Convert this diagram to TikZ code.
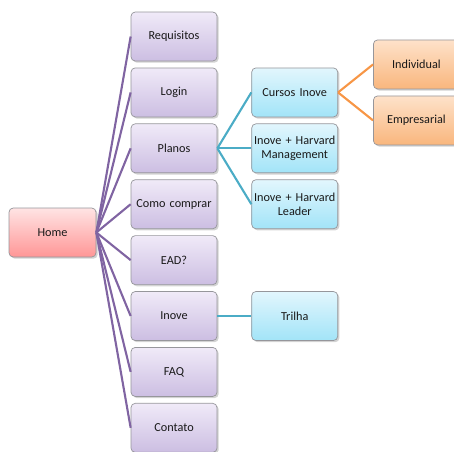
\documentclass[tikz,border=0pt]{standalone}
\usepackage{fontspec}
\setmainfont{Carlito}[WordSpace=0.8]
\usepackage{tikz}
\usetikzlibrary{positioning, shadows}
\definecolor{mappurple}{RGB}{128,100,162}
\definecolor{mapblue}{RGB}{75,172,198}
\definecolor{maporange}{RGB}{247,150,70}
\definecolor{boxedge}{RGB}{150,150,155}
\definecolor{hometop}{RGB}{255,228,228}
\definecolor{homebot}{RGB}{255,150,150}
\definecolor{menutop}{RGB}{240,234,248}
\definecolor{menubot}{RGB}{204,190,226}
\definecolor{subtop}{RGB}{226,246,253}
\definecolor{subbot}{RGB}{162,228,248}
\definecolor{plantop}{RGB}{254,226,202}
\definecolor{planbot}{RGB}{249,182,125}
\tikzset{
  %% ---- boxes ----
  card/.style    = {rectangle, rounded corners=3pt,
                    draw=boxedge, line width=0.5pt,
                    inner xsep=0pt, inner ysep=1pt,
                    minimum width=2.15cm, minimum height=1.225cm,
                    text width=2.15cm, align=center,
                    font=\fontsize{8.7}{9.8}\selectfont, text=black!90,
                    drop shadow={opacity=0.35, shadow xshift=1.2pt, shadow yshift=-1.2pt}},
  homebox/.style = {card, top color=hometop, bottom color=homebot},
  menubox/.style = {card, top color=menutop, bottom color=menubot},
  subbox/.style  = {card, top color=subtop, bottom color=subbot},
  planbox/.style = {card, top color=plantop, bottom color=planbot},
  %% ---- links ----
  menulink/.style = {line width=1.5pt, color=mappurple},
  sublink/.style  = {line width=1.5pt, color=mapblue},
  planlink/.style = {line width=1.5pt, color=maporange},
}
\begin{document}
\begin{tikzpicture}[node distance=0.155cm]

  \useasboundingbox (0,0) rectangle (11.35,-11.275);

  %% root
  \node[homebox, minimum width=2.175cm, text width=2.175cm] (home) at (1.3125,-5.8125) {Home};

  %% menu column
  \node[menubox] (requisitos) at (4.35,-0.9125) {Requisitos};
  \node[menubox, below=of requisitos] (login)   {Login};
  \node[menubox, below=of login]      (planos)  {Planos};
  \node[menubox, below=of planos]     (comprar) {Como comprar};
  \node[menubox, below=of comprar]    (ead)     {EAD?};
  \node[menubox, below=of ead]        (inove)   {Inove};
  \node[menubox, below=of inove]      (faq)     {FAQ};
  \node[menubox, below=of faq]        (contato) {Contato};

  %% courses
  \node[subbox, right=0.85cm of login]   (cursos)     {Cursos Inove};
  \node[subbox, right=0.85cm of planos]  (management) {Inove + Harvard\\Management};
  \node[subbox, right=0.85cm of comprar] (leader)     {Inove + Harvard\\Leader};
  \node[subbox, right=0.85cm of inove]   (trilha)     {Trilha};

  %% plans
  \node[planbox, right=0.875cm of cursos, yshift=0.7cm]  (individual)  {Individual};
  \node[planbox, right=0.875cm of cursos, yshift=-0.7cm] (empresarial) {Empresarial};

  %% links
  \foreach \n in {requisitos, login, planos, comprar, ead, inove, faq, contato}
    \draw[menulink] (home.east) -- (\n.west);
  \foreach \n in {cursos, management, leader}
    \draw[sublink] (planos.east) -- (\n.west);
  \draw[sublink] (inove.east) -- (trilha.west);
  \draw[planlink] (cursos.east) -- (individual.west);
  \draw[planlink] (cursos.east) -- (empresarial.west);

\end{tikzpicture}
\end{document}
